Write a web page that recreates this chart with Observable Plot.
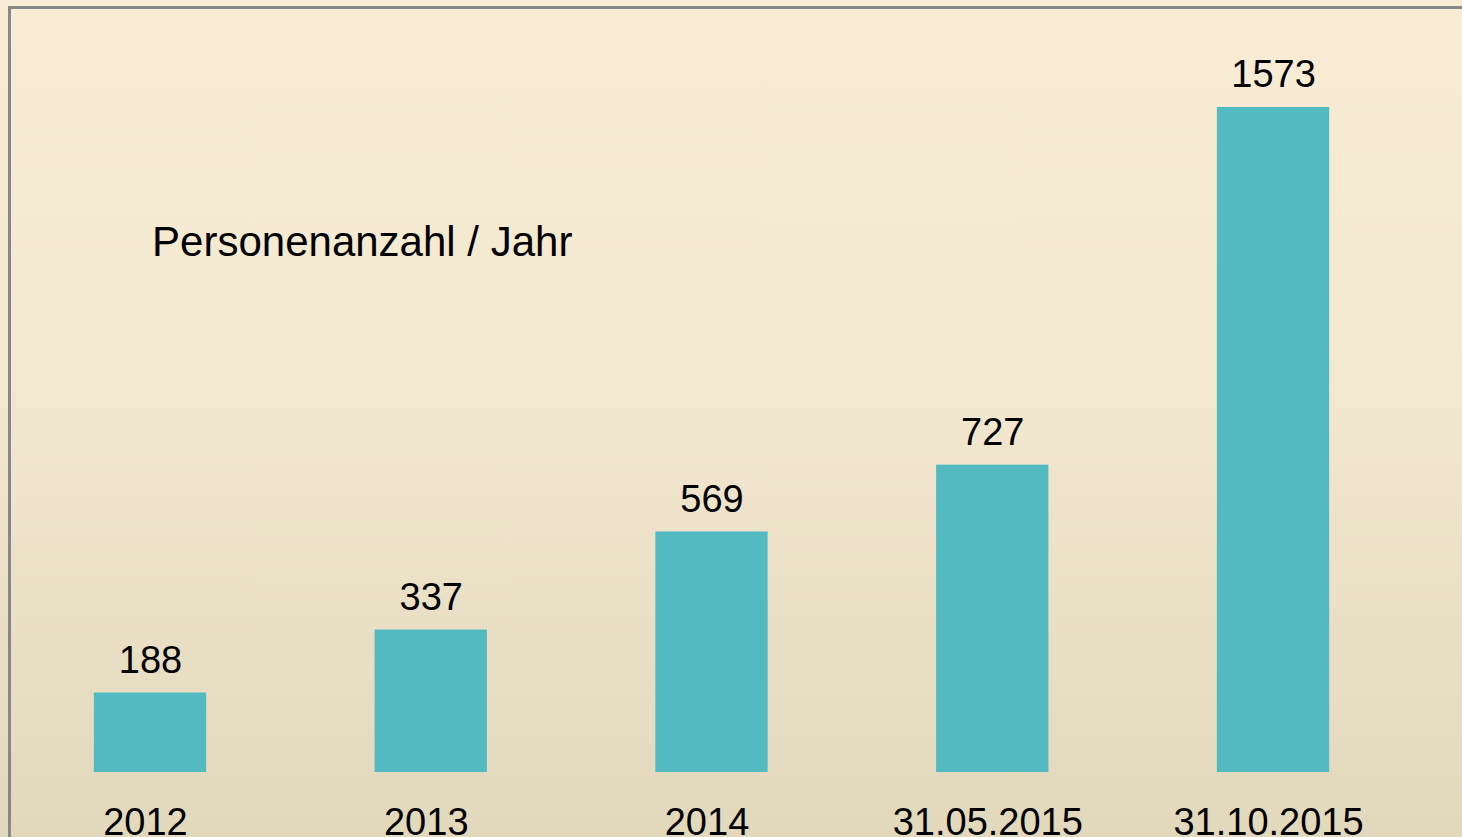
<!DOCTYPE html>
<html>
<head>
<meta charset="utf-8">
<script src="https://cdn.jsdelivr.net/npm/d3@7"></script>
<script src="https://cdn.jsdelivr.net/npm/@observablehq/plot@0.6"></script>
<style>
  html, body { margin: 0; padding: 0; width: 1462px; height: 837px; overflow: hidden; }
  body { background: linear-gradient(to bottom, #F8ECD4 0%, #F3E8D0 45%, #E2D8BC 100%); font-family: Arial, "Liberation Sans", sans-serif; position: relative; }
  #frame { position: absolute; left: 8px; top: 6px; right: 0; bottom: 0; border-left: 3px solid #888; border-top: 3px solid #888; pointer-events: none; }
  #chart { position: absolute; left: 0; top: 0; }
  #chart svg { background: transparent; overflow: visible; }
</style>
</head>
<body>
<div id="chart"></div>
<div id="frame"></div>
<script>
const categories = ["2012", "2013", "2014", "31.05.2015", "31.10.2015"];
const values = [188, 337, 569, 727, 1573];
const title = "Personenanzahl / Jahr";

const data = categories.map((c, i) => ({category: c, value: values[i]}));

const chart = Plot.plot({
  width: 1462,
  height: 837,
  marginLeft: 9.6,
  marginRight: 48.6,
  marginTop: 11,
  marginBottom: 65,
  style: {background: "transparent", fontFamily: "Arial, 'Liberation Sans', sans-serif", color: "#000", overflow: "visible"},
  x: {domain: categories, paddingInner: 0.6, paddingOuter: 0.3, round: false, label: null},
  y: {domain: [0, 1800], axis: null},
  marks: [
    Plot.barY(data, {x: "category", y: "value", fill: "#52BAC0"}),
    Plot.text(data, {x: "category", y: "value", text: d => String(d.value), lineAnchor: "bottom", dy: -20, fontSize: 38, fill: "#000"}),
    Plot.axisX({tickSize: 0, tickPadding: 0, fontSize: 38, dy: 36, dx: -5, label: null, fill: "#000"}),
    Plot.text([title], {frameAnchor: "top-left", text: d => d, dx: 142, dy: 231, lineAnchor: "middle", textAnchor: "start", fontSize: 42, fill: "#000"})
  ]
});
document.getElementById("chart").appendChild(chart);
</script>
</body>
</html>
